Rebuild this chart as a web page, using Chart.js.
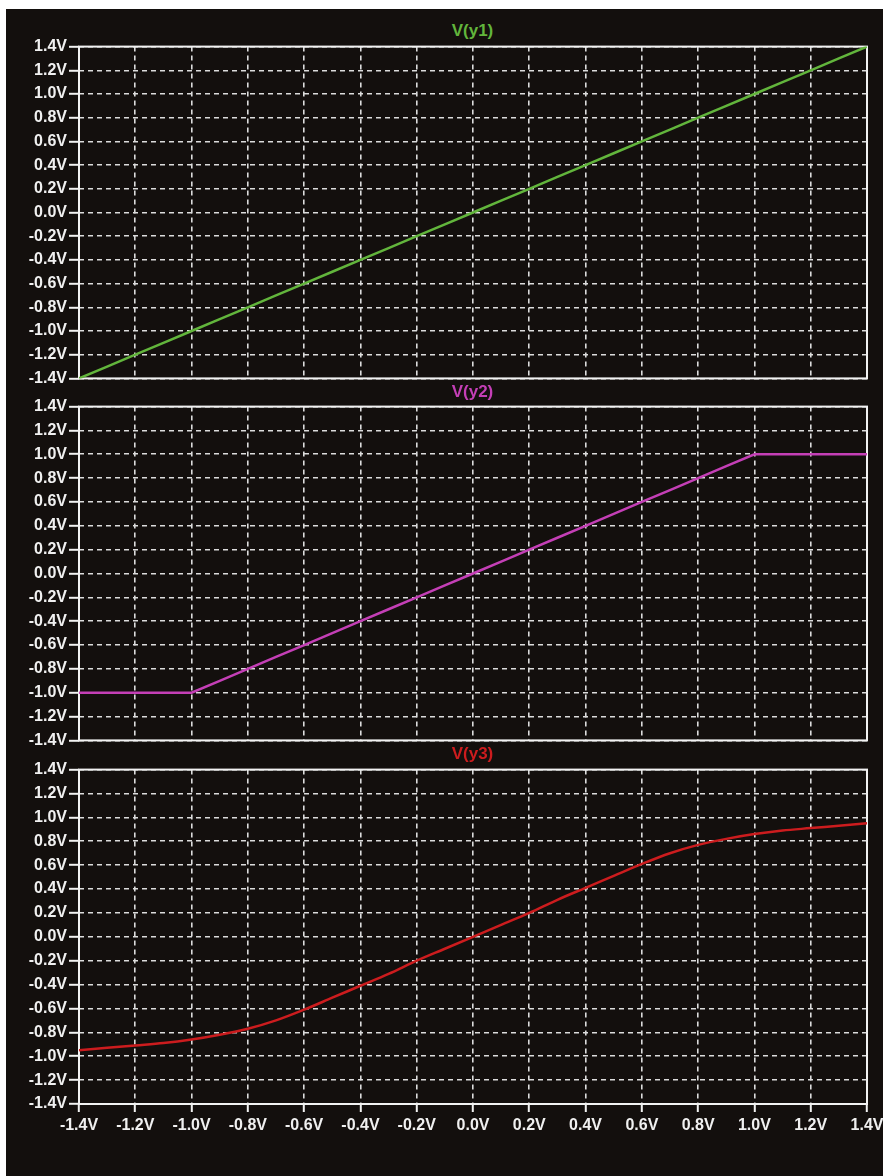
<!DOCTYPE html>
<html>
<head>
<meta charset="utf-8">
<script src="https://cdn.jsdelivr.net/npm/chart.js@4.4.1/dist/chart.umd.min.js"></script>
<style>
  html, body { margin: 0; padding: 0; background: #fff; overflow: hidden; }
  #scope { position: absolute; left: 6px; top: 9px; width: 877px; height: 1167px; background: #130f0d; overflow: hidden; }
  canvas { position: absolute; left: 0; }
  .trace { position: absolute; left: 73px; width: 787px; text-align: center;
           font: bold 17px "Liberation Sans", Arial, sans-serif; line-height: 20px; }
</style>
</head>
<body>
<div id="scope">
  <div class="trace" style="top:12px;color:#62b53c">V(y1)</div>
  <canvas id="p1" width="877" height="355" style="top:26px"></canvas>
  <div class="trace" style="top:373px;color:#c43fb6">V(y2)</div>
  <canvas id="p2" width="877" height="357" style="top:386px"></canvas>
  <div class="trace" style="top:735px;color:#cc1c1e">V(y3)</div>
  <canvas id="p3" width="882" height="380" style="top:749px"></canvas>
</div>
<script>
// ── sweep + traces ──
const sweep = [-1.4, -1.3, -1.2, -1.1, -1.0, -0.9, -0.8, -0.7, -0.6, -0.5, -0.4, -0.3, -0.2, -0.1, 0.0,
               0.1, 0.2, 0.3, 0.4, 0.5, 0.6, 0.7, 0.8, 0.9, 1.0, 1.1, 1.2, 1.3, 1.4];
const vy1 = [-1.4, -1.3, -1.2, -1.1, -1.0, -0.9, -0.8, -0.7, -0.6, -0.5, -0.4, -0.3, -0.2, -0.1, 0.0,
             0.1, 0.2, 0.3, 0.4, 0.5, 0.6, 0.7, 0.8, 0.9, 1.0, 1.1, 1.2, 1.3, 1.4];
const vy2 = [-1.0, -1.0, -1.0, -1.0, -1.0, -0.9, -0.8, -0.7, -0.6, -0.5, -0.4, -0.3, -0.2, -0.1, 0.0,
             0.1, 0.2, 0.3, 0.4, 0.5, 0.6, 0.7, 0.8, 0.9, 1.0, 1.0, 1.0, 1.0, 1.0];
const vy3 = [-0.95, -0.93, -0.91, -0.89, -0.86, -0.82, -0.77, -0.70, -0.61, -0.51, -0.41, -0.31, -0.20, -0.10, 0.0,
             0.10, 0.20, 0.31, 0.41, 0.51, 0.61, 0.70, 0.77, 0.82, 0.86, 0.89, 0.91, 0.93, 0.95];
const voltTicks = [-1.4, -1.2, -1.0, -0.8, -0.6, -0.4, -0.2, 0.0, 0.2, 0.4, 0.6, 0.8, 1.0, 1.2, 1.4];

const FONT = { family: "'Liberation Sans', Arial, sans-serif", size: 16, weight: "bold" };
const GRID = "#dcdcdc";

// white box round the plot area
const framePlugin = {
  id: "frame",
  beforeDatasetsDraw(chart) {
    const a = chart.chartArea, ctx = chart.ctx;
    ctx.save();
    ctx.strokeStyle = "#f2f2f2";
    ctx.lineWidth = 2;
    ctx.strokeRect(a.left, a.top, a.right - a.left, a.bottom - a.top);
    ctx.restore();
  }
};

const fmt = v => Number(v).toFixed(1) + "V";

function buildPanel(id, values, color, smooth, showX) {
  new Chart(document.getElementById(id), {
    type: "line",
    data: {
      datasets: [{
        data: sweep.map((x, i) => ({ x, y: values[i] })),
        borderColor: color,
        borderWidth: 2.5,
        pointRadius: 0,
        cubicInterpolationMode: smooth ? "monotone" : "default",
        tension: 0,
      }]
    },
    options: {
      responsive: false,
      animation: false,
      layout: { padding: { top: 10, bottom: showX ? 0 : 2, right: showX ? 21 : 16, left: 0 } },
      plugins: { legend: { display: false }, tooltip: { enabled: false } },
      scales: {
        x: {
          type: "linear", min: -1.4, max: 1.4,
          afterBuildTicks: s => { s.ticks = voltTicks.map(value => ({ value })); },
          afterFit: s => { s.height = showX ? 34 : 0; },
          grid: { color: GRID, lineWidth: 1.6, drawTicks: showX, tickLength: 8, tickColor: "#f2f2f2", tickWidth: 2 },
          border: { display: false, dash: [5, 4] },
          ticks: { display: showX, color: "#f0f0f0", font: FONT, padding: 4, maxRotation: 0, autoSkip: false, callback: fmt },
        },
        y: {
          min: -1.4, max: 1.4,
          afterBuildTicks: s => { s.ticks = voltTicks.map(value => ({ value })); },
          afterFit: s => { s.width = 73; },
          grid: { color: GRID, lineWidth: 1.6, tickLength: 10, tickColor: "#f2f2f2", tickWidth: 2 },
          border: { display: false, dash: [5, 4] },
          ticks: { color: "#f0f0f0", font: FONT, padding: 2, autoSkip: false, callback: fmt },
        }
      }
    },
    plugins: [framePlugin]
  });
}

buildPanel("p1", vy1, "#62b53c", false, false);
buildPanel("p2", vy2, "#c43fb6", false, false);
buildPanel("p3", vy3, "#cc1c1e", true, true);
</script>
</body>
</html>
